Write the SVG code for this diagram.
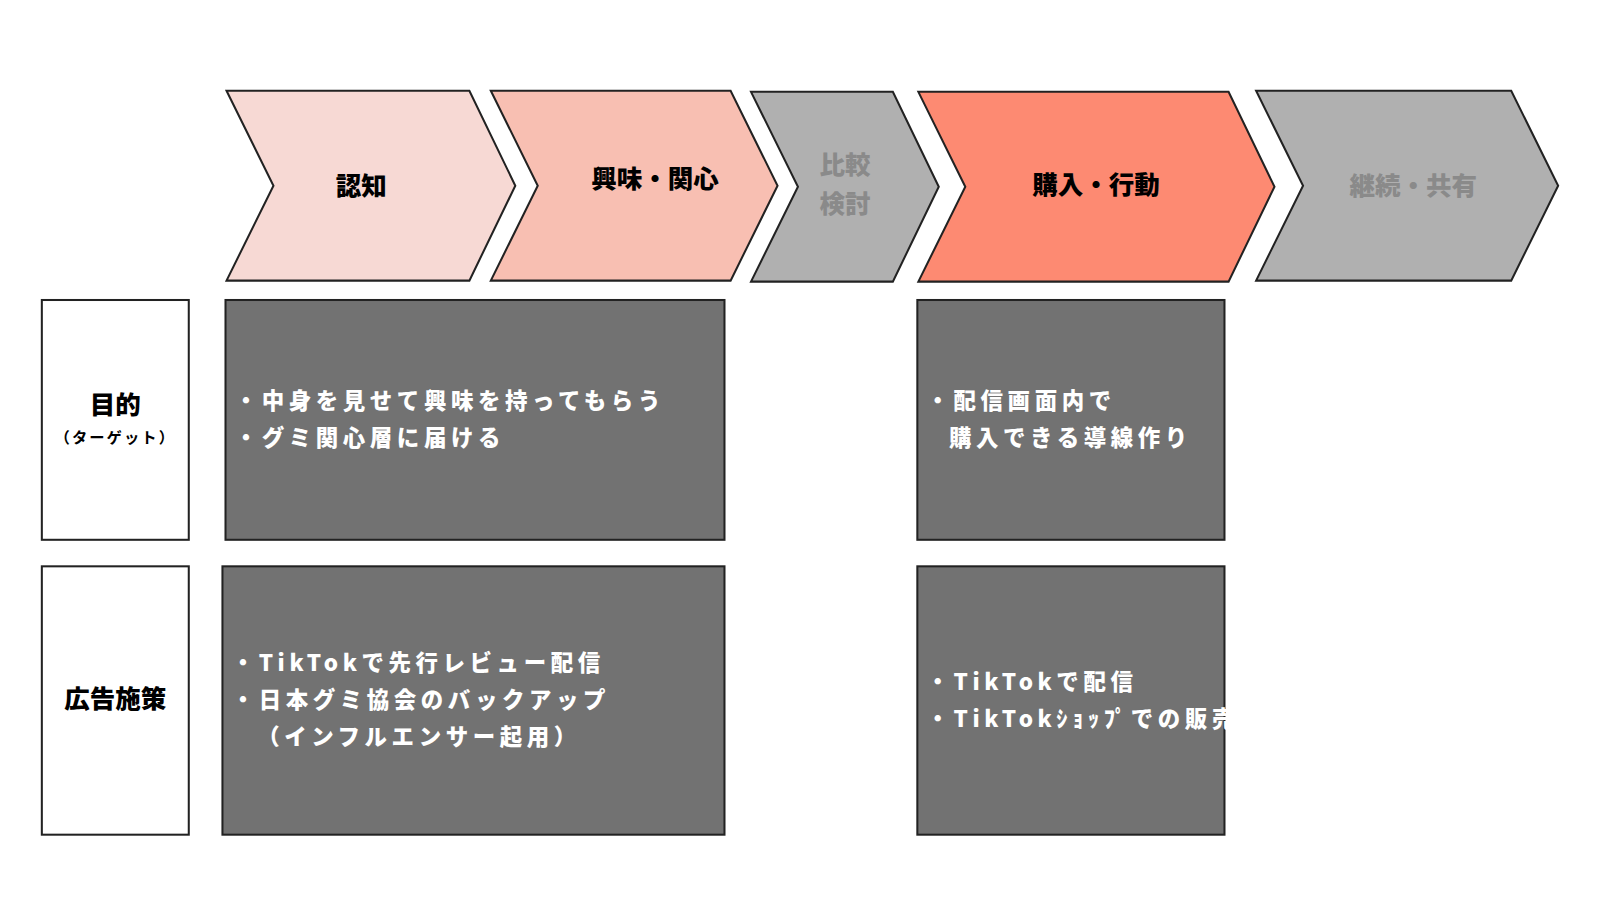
<svg xmlns="http://www.w3.org/2000/svg" width="1600" height="900" viewBox="0 0 1600 900">
<style>
.ch{stroke:#222;stroke-width:2;stroke-linejoin:miter}
.lbl{font-family:"Noto Sans CJK JP","Noto Sans",sans-serif;font-weight:900;font-size:25px;text-anchor:middle}
.box{fill:#727272;stroke:#222;stroke-width:2}
.wbox{fill:#fff;stroke:#222;stroke-width:2}
.t{font-family:"Noto Sans CJK JP","Noto Sans",sans-serif;font-weight:900;font-size:22px;fill:#fff;letter-spacing:4.5px}
</style>
<rect width="1600" height="900" fill="#fff"/>
<g transform="scale(1.0204)">
<g id="stage-ninchi"><polygon class="ch" fill="#f7d9d4" points="222,89 460,89 505,182 460,275 222,275 268,182"/><text class="lbl" x="354" y="191">認知</text></g>
<g id="stage-kyomi"><polygon class="ch" fill="#f8bfb2" points="481,89 716,89 762,182 716,275 481,275 527,182"/><text class="lbl" x="642" y="184">興味・関心</text></g>
<g id="stage-hikaku"><polygon class="ch" fill="#b0b0b0" points="736,90 875,90 920,183 875,276 736,276 782,183"/><text class="lbl" x="828" y="171" fill="#8a8a8a">比較</text><text class="lbl" x="828" y="209" fill="#8a8a8a">検討</text></g>
<g id="stage-konyu"><polygon class="ch" fill="#fd8a72" points="900,90 1204,90 1249,183 1204,276 900,276 946,183"/><text class="lbl" x="1074" y="190">購入・行動</text></g>
<g id="stage-keizoku"><polygon class="ch" fill="#b0b0b0" points="1231,89 1481,89 1527,182 1481,275 1231,275 1277,182"/><text class="lbl" x="1385" y="191" fill="#8a8a8a">継続・共有</text></g>
<g id="row-mokuteki"><rect class="wbox" x="41" y="294" width="144" height="235"/><text class="lbl" x="113" y="406" font-size="23">目的</text><text x="113" y="434" text-anchor="middle" font-family="Noto Sans CJK JP,sans-serif" font-weight="700" font-size="15" letter-spacing="2">（ターゲット）</text></g>
<g id="row-kokoku"><rect class="wbox" x="41" y="555" width="144" height="263"/><text class="lbl" x="113" y="694" font-size="23">広告施策</text></g>
<g id="box-mokuteki-1"><rect class="box" x="221" y="294" width="489" height="235"/><text class="t" x="230" y="401">・中身を見せて興味を持ってもらう</text><text class="t" x="230" y="437">・グミ関心層に届ける</text></g>
<g id="box-mokuteki-2"><rect class="box" x="899" y="294" width="301" height="235"/><text class="t" x="908" y="401">・配信画面内で</text><text class="t" x="930" y="437">購入できる導線作り</text></g>
<g id="box-kokoku-1"><rect class="box" x="218" y="555" width="492" height="263"/><text class="t" x="227" y="658">・TikTokで先行レビュー配信</text><text class="t" x="227" y="694">・日本グミ協会のバックアップ</text><text class="t" x="252" y="730">（インフルエンサー起用）</text></g>
<g id="box-kokoku-2"><rect class="box" x="899" y="555" width="301" height="263"/><text class="t" x="908" y="676" letter-spacing="2">・TikTokで配信</text><text class="t" x="908" y="712" letter-spacing="2">・TikTokｼｮｯﾌﾟでの販売</text></g>
</g>
<g id="connectors"/>
</svg>
